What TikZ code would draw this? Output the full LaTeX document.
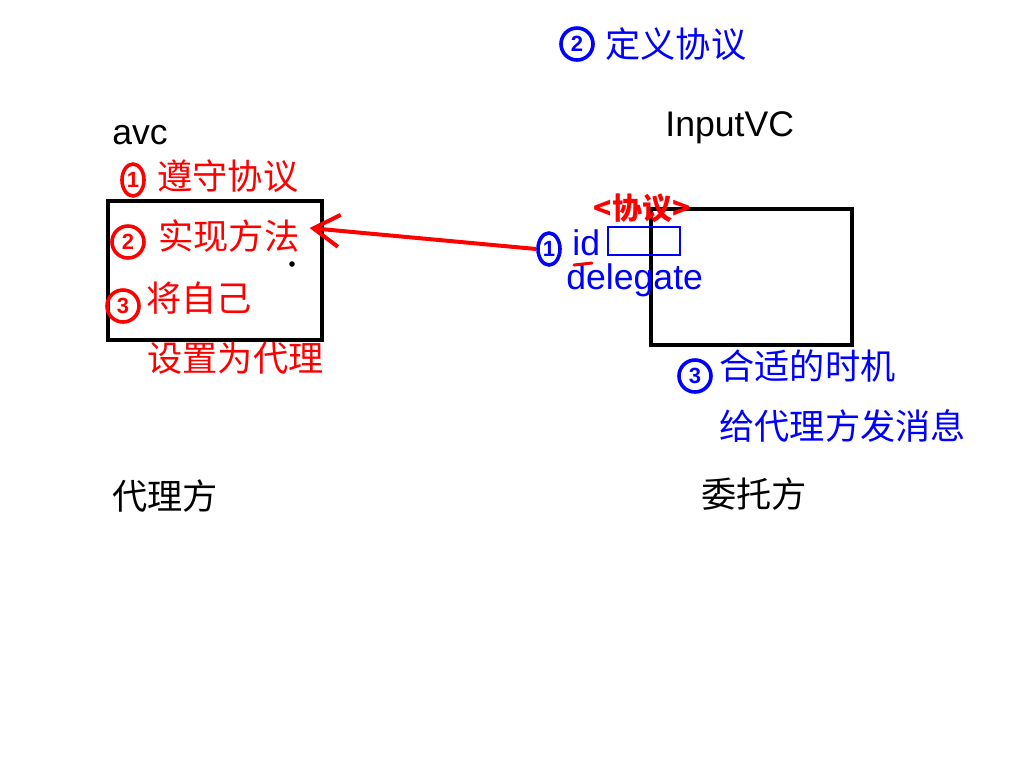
\documentclass[tikz,border=0pt]{standalone}
\usepackage{fontspec}
\setmainfont{Liberation Sans}
\newfontfamily\cjk{Noto Sans CJK SC}
\usetikzlibrary{arrows.meta,shapes.geometric}
\definecolor{Pen}{HTML}{FF0000}
\definecolor{Ink}{HTML}{0000FF}

\begin{document}
\begin{tikzpicture}[
  x=0.5pt,y=-0.5pt,
  lbl/.style={anchor=west,inner sep=0pt,font=\fontsize{17.8}{20}\selectfont},
  zh/.style={anchor=west,inner sep=0pt,font=\fontsize{17.6}{20}\selectfont\cjk},
  num/.style={draw,circle,line width=1.8pt,inner sep=0pt,minimum size=16pt,font=\bfseries\fontsize{11}{12}\selectfont},
  numthin/.style={num,ellipse,minimum width=11pt,minimum height=16pt},
  frame/.style={draw=black,line width=1.7pt,inner sep=0pt},
  arrow/.style={-{Straight Barb[length=13pt,width=16pt]},line width=2pt,color=Pen}
]
  \fill[white] (0,0) rectangle (1024,768);
  \useasboundingbox (0,0) rectangle (1024,768);

  % left side
  \node[lbl] (avc) at (112,135) {avc};
  \node[numthin,Pen] (n1) at (133,180) {1};
  \node[zh,Pen] (obey) at (157,176) {遵守协议};
  \node[frame,minimum width=107pt,minimum height=69.5pt] (avcbox) at (215,270.5) {};
  \node[num,Pen] (n2) at (128,242) {2};
  \node[zh,Pen] (impl) at (158,236) {实现方法};
  \fill (292,264) circle (1.4pt);
  \node[num,Pen] (n3) at (123,306) {3};
  \node[zh,Pen] (self) at (146,298) {将自己};
  \node[zh,Pen] (setdel) at (147,358) {设置为代理};
  \node[zh] (agentside) at (112,496) {代理方};

  % right side
  \node[num,Ink] (m2) at (577,44) {2};
  \node[zh,Ink] (define) at (605,44) {定义协议};
  \node[lbl] (input) at (665,128) {InputVC};
  \node[frame,minimum width=100.5pt,minimum height=68pt] (inbox) at (751.5,277) {};
  \node[inner sep=0pt,Pen,font=\bfseries\fontsize{15}{16}\selectfont\cjk] (proto) at (642,208) {<协议>};
  \node[draw=Ink,line width=1.4pt,inner sep=0pt,minimum width=36pt,minimum height=14pt] (slot) at (644,241) {};
  \node[numthin,Ink] (m1) at (549,249) {1};
  \node[lbl,Ink] (id) at (572,243) {id};
  \node[lbl,Ink] (delegate) at (566,280) {delegate};
  \node[num,Ink] (m3) at (695,376) {3};
  \node[zh,Ink] (timing) at (719,366) {合适的时机};
  \node[zh,Ink] (send) at (719,426) {给代理方发消息};
  \node[zh] (client) at (701,494) {委托方};

  \draw[Pen,line width=1.5pt,line cap=round] (574,265) -- (592,263);
  \draw[arrow] (m1.west) -- ([shift={(10,-8)}]impl.east);
\end{tikzpicture}
\end{document}
